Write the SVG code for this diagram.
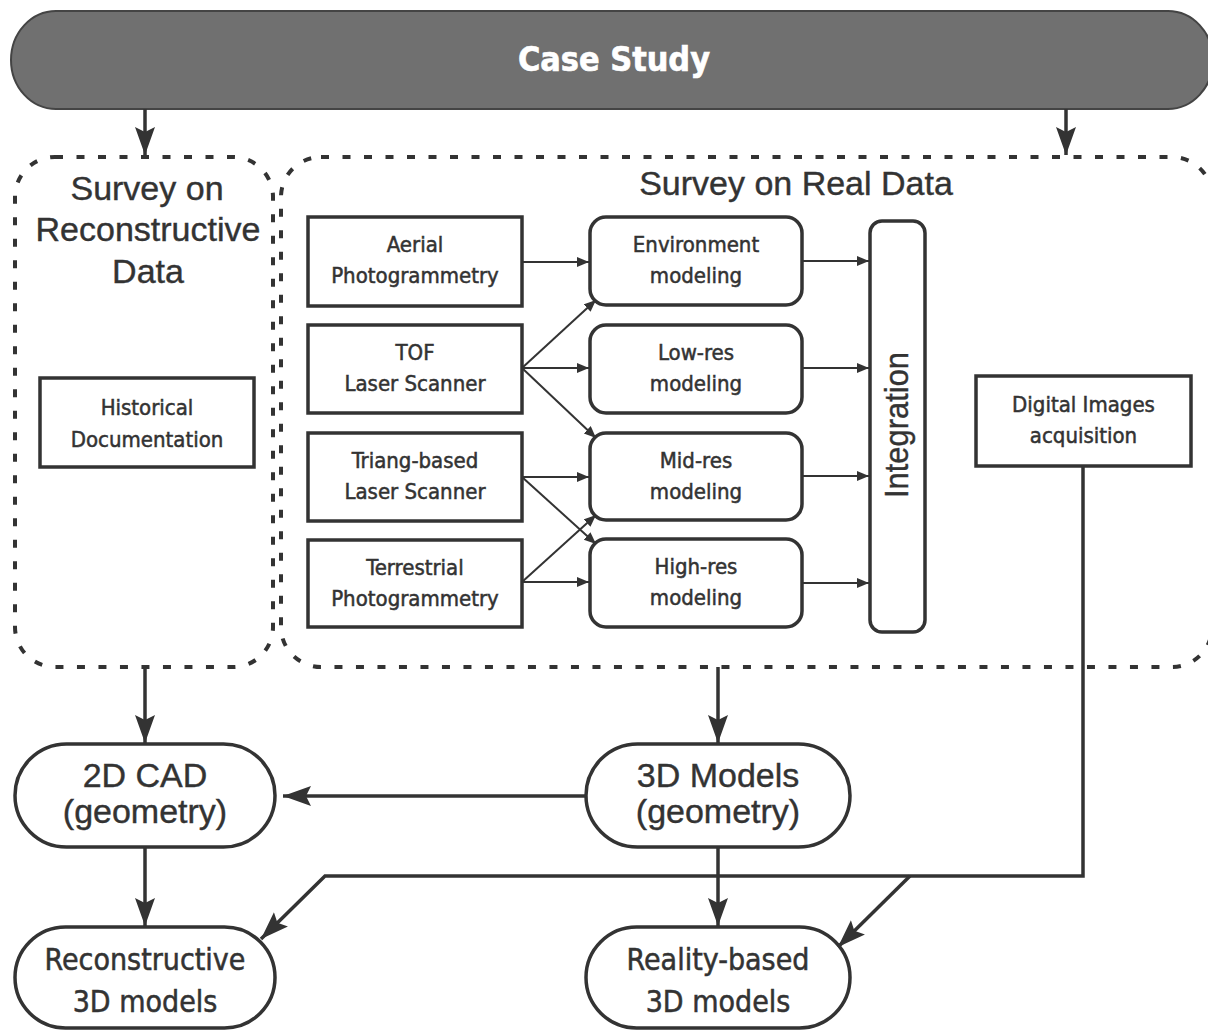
<svg xmlns="http://www.w3.org/2000/svg" width="1208" height="1030" viewBox="0 0 1208 1030">
<style>
.box{fill:#fff;stroke:#333;stroke-width:3.5}
.cont{fill:none;stroke:#333;stroke-width:4;stroke-dasharray:8 13.5}
.thin{fill:none;stroke:#333;stroke-width:2}
.thick{fill:none;stroke:#333;stroke-width:3.5}
.cond{font-family:"DejaVu Sans Condensed","DejaVu Sans",sans-serif;font-stretch:condensed;fill:#333;stroke:#333;stroke-width:0.5;text-anchor:middle}
.wide{font-family:"Liberation Sans",Arial,sans-serif;fill:#333;stroke:#333;stroke-width:0.4;text-anchor:middle}
.s22{font-size:22px}
.s30{font-size:30px}
</style>
<defs>
<marker id="ah" markerUnits="userSpaceOnUse" markerWidth="14" markerHeight="12" refX="12" refY="5" orient="auto">
<path d="M0,0 L12,5 L0,10 z" fill="#333"/>
</marker>
<marker id="AH" markerUnits="userSpaceOnUse" markerWidth="30" markerHeight="22" refX="28" refY="10" orient="auto">
<path d="M0,0 L28,10 L0,20 L5,10 z" fill="#333"/>
</marker>
</defs>

<g id="case-study">
<rect x="11" y="11" width="1202" height="98" rx="45" ry="49" fill="#707070" stroke="#444" stroke-width="2"/>
<text x="614" y="71" font-family="'DejaVu Sans Condensed','DejaVu Sans',sans-serif" font-stretch="condensed" font-weight="bold" font-size="33" fill="#fff" stroke="#fff" stroke-width="0.6" text-anchor="middle" textLength="192" lengthAdjust="spacingAndGlyphs">Case Study</text>
</g>

<g id="survey-reconstructive">
<rect class="cont" x="15" y="157" width="258" height="510" rx="40"/>
<text class="wide" font-size="34" x="147" y="200">Survey on</text>
<text class="wide" font-size="34" x="148" y="241">Reconstructive</text>
<text class="wide" font-size="34" x="148" y="283">Data</text>
</g>

<g id="survey-real">
<rect class="cont" x="281" y="157" width="931" height="510" rx="40"/>
<text class="wide" font-size="34" x="796" y="195">Survey on Real Data</text>
</g>

<g id="historical">
<rect class="box" x="40" y="378" width="214" height="89"/>
<text class="cond s22" x="147" y="415">Historical</text>
<text class="cond s22" x="147" y="447">Documentation</text>
</g>

<g id="aerial">
<rect class="box" x="308" y="217" width="214" height="89"/>
<text class="cond s22" x="415" y="252">Aerial</text>
<text class="cond s22" x="415" y="283">Photogrammetry</text>
</g>
<g id="tof">
<rect class="box" x="308" y="325" width="214" height="88"/>
<text class="cond s22" x="415" y="360">TOF</text>
<text class="cond s22" x="415" y="391">Laser Scanner</text>
</g>
<g id="triang">
<rect class="box" x="308" y="433" width="214" height="88"/>
<text class="cond s22" x="415" y="468">Triang-based</text>
<text class="cond s22" x="415" y="499">Laser Scanner</text>
</g>
<g id="terrestrial">
<rect class="box" x="308" y="540" width="214" height="87"/>
<text class="cond s22" x="415" y="575">Terrestrial</text>
<text class="cond s22" x="415" y="606">Photogrammetry</text>
</g>

<g id="environment">
<rect class="box" x="590" y="217" width="212" height="88" rx="16"/>
<text class="cond s22" x="696" y="252">Environment</text>
<text class="cond s22" x="696" y="283">modeling</text>
</g>
<g id="lowres">
<rect class="box" x="590" y="325" width="212" height="88" rx="16"/>
<text class="cond s22" x="696" y="360">Low-res</text>
<text class="cond s22" x="696" y="391">modeling</text>
</g>
<g id="midres">
<rect class="box" x="590" y="433" width="212" height="87" rx="16"/>
<text class="cond s22" x="696" y="468">Mid-res</text>
<text class="cond s22" x="696" y="499">modeling</text>
</g>
<g id="highres">
<rect class="box" x="590" y="539" width="212" height="88" rx="16"/>
<text class="cond s22" x="696" y="574">High-res</text>
<text class="cond s22" x="696" y="605">modeling</text>
</g>

<g id="integration">
<rect class="box" x="870" y="221" width="55" height="411" rx="12"/>
<text class="wide" font-size="34" transform="translate(908,425) rotate(-90)" x="0" y="0" textLength="146" lengthAdjust="spacingAndGlyphs">Integration</text>
</g>

<g id="digital-images">
<rect class="box" x="976" y="376" width="215" height="90"/>
<text class="cond s22" x="1083.5" y="412">Digital Images</text>
<text class="cond s22" x="1083.5" y="443">acquisition</text>
</g>

<g id="cad2d">
<rect class="box" x="15" y="744" width="260" height="103" rx="51.5"/>
<text class="wide" font-size="34" x="145" y="787">2D CAD</text>
<text class="wide" font-size="34" x="145" y="823">(geometry)</text>
</g>
<g id="models3d">
<rect class="box" x="586" y="744" width="264" height="103" rx="51.5"/>
<text class="wide" font-size="34" x="718" y="787">3D Models</text>
<text class="wide" font-size="34" x="718" y="823">(geometry)</text>
</g>
<g id="reconstructive-3d">
<rect class="box" x="15" y="927" width="260" height="101" rx="50.5"/>
<text class="cond s30" x="145" y="970">Reconstructive</text>
<text class="cond s30" x="145" y="1012">3D models</text>
</g>
<g id="reality-3d">
<rect class="box" x="586" y="927" width="264" height="101" rx="50.5"/>
<text class="cond s30" x="718" y="970">Reality-based</text>
<text class="cond s30" x="718" y="1012">3D models</text>
</g>

<g id="connectors">
<line class="thick" x1="145" y1="109" x2="145" y2="155" marker-end="url(#AH)"/>
<line class="thick" x1="1066" y1="109" x2="1066" y2="155" marker-end="url(#AH)"/>

<line class="thin" x1="522" y1="262" x2="589" y2="262" marker-end="url(#ah)"/>
<line class="thin" x1="522" y1="368" x2="596" y2="300" marker-end="url(#ah)"/>
<line class="thin" x1="522" y1="368" x2="589" y2="368" marker-end="url(#ah)"/>
<line class="thin" x1="522" y1="368" x2="596" y2="438" marker-end="url(#ah)"/>
<line class="thin" x1="522" y1="477" x2="589" y2="477" marker-end="url(#ah)"/>
<line class="thin" x1="522" y1="477" x2="596" y2="544" marker-end="url(#ah)"/>
<line class="thin" x1="522" y1="582" x2="596" y2="515" marker-end="url(#ah)"/>
<line class="thin" x1="522" y1="582" x2="589" y2="582" marker-end="url(#ah)"/>

<line class="thin" x1="802" y1="261" x2="869" y2="261" marker-end="url(#ah)"/>
<line class="thin" x1="802" y1="368" x2="869" y2="368" marker-end="url(#ah)"/>
<line class="thin" x1="802" y1="476" x2="869" y2="476" marker-end="url(#ah)"/>
<line class="thin" x1="802" y1="583" x2="869" y2="583" marker-end="url(#ah)"/>

<line class="thick" x1="145" y1="667" x2="145" y2="743" marker-end="url(#AH)"/>
<line class="thick" x1="718" y1="667" x2="718" y2="743" marker-end="url(#AH)"/>
<line class="thick" x1="586" y1="796" x2="283" y2="796" marker-end="url(#AH)"/>
<line class="thick" x1="145" y1="847" x2="145" y2="926" marker-end="url(#AH)"/>
<line class="thick" x1="718" y1="847" x2="718" y2="926" marker-end="url(#AH)"/>
<polyline class="thick" points="1083,466 1083,876 325,876 261,939" marker-end="url(#AH)"/>
<line class="thick" x1="910" y1="876" x2="838" y2="947" marker-end="url(#AH)"/>
</g>
</svg>
